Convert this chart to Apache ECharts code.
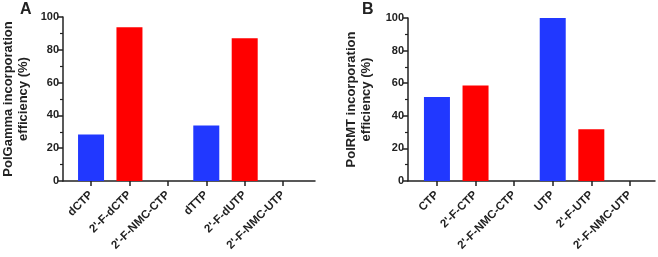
<!DOCTYPE html>
<html>
<head>
<meta charset="utf-8">
<script src="https://cdn.jsdelivr.net/npm/echarts@6/dist/echarts.min.js"></script>
<style>
  html, body { margin: 0; padding: 0; background: #fff; }
  #chart { width: 658px; height: 257px; }
</style>
</head>
<body>
<div id="chart"></div>
<script>
// panel A
const catsA = ['dCTP', "2'-F-dCTP", "2'-F-NMC-CTP", 'dTTP', "2'-F-dUTP", "2'-F-NMC-UTP"];
const valsA = [28.4, 93.8, 0, 33.9, 87.0, 0];
// panel B
const catsB = ['CTP', "2'-F-CTP", "2'-F-NMC-CTP", 'UTP', "2'-F-UTP", "2'-F-NMC-UTP"];
const valsB = [51.6, 58.6, 0, 100, 31.8, 0];
const barColors = ['#2138ff', '#ff0000', '#ff0000', '#2138ff', '#ff0000', '#ff0000'];

const FONT = '"Liberation Sans", Arial, sans-serif';
const AXIS = '#222';

const chart = echarts.init(document.getElementById('chart'));

function xAxisFor(idx, cats, min, max) {
  return {
    type: 'value', gridIndex: idx, min: min, max: max,
    splitLine: { show: false },
    axisLine: { show: true, onZero: false, lineStyle: { color: AXIS, width: 1.5 } },
    axisTick: { show: true, length: 5, customValues: cats.map((c, i) => i), lineStyle: { color: AXIS, width: 1.5 } },
    axisLabel: {
      customValues: cats.map((c, i) => i),
      formatter: v => cats[Math.round(v)],
      rotate: 45, margin: 12,
      fontFamily: FONT, fontWeight: 'bold', fontSize: 11.5, color: '#222'
    }
  };
}

function yAxisFor(idx, name, gap) {
  return {
    type: 'value', gridIndex: idx, min: 0, max: 100, interval: 20,
    name: name, nameLocation: 'middle', nameGap: gap,
    nameTextStyle: { fontFamily: FONT, fontWeight: 'bold', fontSize: 13, color: '#222', lineHeight: 15 },
    splitLine: { show: false },
    axisLine: { show: true, onZero: false, lineStyle: { color: AXIS, width: 1.5 } },
    axisTick: { show: true, length: 5, lineStyle: { color: AXIS, width: 1.5 } },
    minorTick: { show: true, splitNumber: 2, length: 3, lineStyle: { color: AXIS, width: 1.2 } },
    axisLabel: { margin: 4, fontFamily: FONT, fontWeight: 'bold', fontSize: 11, color: '#222' }
  };
}

function barData(vals) {
  return vals.map((v, i) => ({ value: [i, v], itemStyle: { color: barColors[i] } }));
}

chart.setOption({
  animation: false,
  title: [
    { text: 'A', left: 15, top: -3, textStyle: { fontFamily: FONT, fontWeight: 'bold', fontSize: 16, color: '#222' } },
    { text: 'B', left: 357, top: -3, textStyle: { fontFamily: FONT, fontWeight: 'bold', fontSize: 16, color: '#222' } }
  ],
  grid: [
    { left: 60, right: 343, top: 17, bottom: 76 },
    { left: 408, right: 3, top: 18, bottom: 76 }
  ],
  xAxis: [
    xAxisFor(0, catsA, -0.73, 5.83),
    xAxisFor(1, catsB, -0.75, 5.65)
  ],
  yAxis: [
    yAxisFor(0, 'PolGamma incorporation\nefficiency (%)', 32),
    yAxisFor(1, 'PolRMT incorporation\nefficiency (%)', 34)
  ],
  series: [
    { type: 'bar', xAxisIndex: 0, yAxisIndex: 0, barWidth: 26, data: barData(valsA) },
    { type: 'bar', xAxisIndex: 1, yAxisIndex: 1, barWidth: 26, data: barData(valsB) }
  ]
});
</script>
</body>
</html>
